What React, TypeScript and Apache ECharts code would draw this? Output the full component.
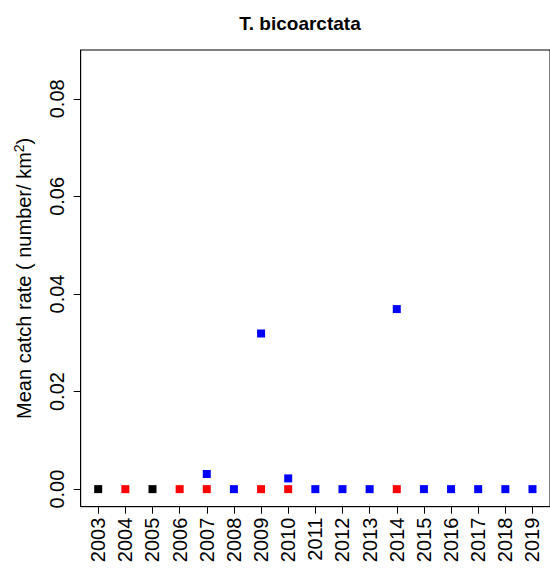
import React, { useEffect, useRef } from "react";
import * as echarts from "echarts";

const titleText = "T. bicoarctata";
const yAxisTicks = [0, 0.02, 0.04, 0.06, 0.08];
const xAxisTicks = [2003, 2004, 2005, 2006, 2007, 2008, 2009, 2010, 2011, 2012, 2013, 2014, 2015, 2016, 2017, 2018, 2019];

const blackYears = [2003, 2005];
const blackValues = [0, 0];
const redYears = [2004, 2006, 2007, 2009, 2010, 2014];
const redValues = [0, 0, 0, 0, 0, 0];
const blueYears = [2007, 2008, 2009, 2010, 2011, 2012, 2013, 2014, 2015, 2016, 2017, 2018, 2019];
const blueValues = [0.0031, 0, 0.0319, 0.0022, 0, 0, 0, 0.0369, 0, 0, 0, 0, 0];

const FONT = "'Liberation Sans', Arial, sans-serif";

function pairs(xs: number[], ys: number[]) {
  return xs.map((x, i) => [x, ys[i]]);
}

export default function App() {
  const ref = useRef<HTMLDivElement>(null);
  useEffect(() => {
    if (!ref.current) return;
    const chart = echarts.init(ref.current, undefined, { renderer: "svg" });
    const mk = (name: string, color: string, data: number[][]) => ({
      name,
      type: "scatter",
      symbol: "rect",
      symbolSize: [8, 8],
      itemStyle: { color, opacity: 1 },
      emphasis: { disabled: true },
      data,
    });
    chart.setOption({
      animation: false,
      backgroundColor: "#ffffff",
      title: {
        text: titleText,
        left: 300,
        top: 14,
        textAlign: "center",
        padding: 0,
        textStyle: { fontFamily: FONT, fontSize: 19, fontWeight: "bold", color: "#000" },
      },
      grid: {
        left: 80.7,
        top: 50,
        width: 471.8,
        height: 456.7,
        show: true,
        borderColor: "#000",
        borderWidth: 1,
        backgroundColor: "transparent",
      },
      xAxis: {
        type: "value",
        min: 2002.355,
        max: 2019.645,
        splitLine: { show: false },
        axisLine: { show: true, onZero: false, lineStyle: { color: "#000", width: 1 } },
        axisTick: { show: true, length: 7, lineStyle: { color: "#000" }, customValues: xAxisTicks },
        axisLabel: {
          show: true,
          rotate: 90,
          margin: 11,
          fontFamily: FONT,
          fontSize: 20,
          color: "#000",
          customValues: xAxisTicks,
          formatter: (v: number) => String(v),
        },
      },
      yAxis: {
        type: "value",
        min: -0.0036,
        max: 0.09,
        splitLine: { show: false },
        axisLine: { show: true, lineStyle: { color: "#000", width: 1 } },
        axisTick: { show: true, length: 7, lineStyle: { color: "#000" }, customValues: yAxisTicks },
        axisLabel: {
          show: true,
          rotate: 90,
          margin: 14,
          fontFamily: FONT,
          fontSize: 20,
          color: "#000",
          customValues: yAxisTicks,
          formatter: (v: number) => v.toFixed(2),
        },
        name: "{a|Mean catch rate ( number/ km}{s|2}{a|)}",
        nameLocation: "middle",
        nameGap: 45,
        nameRotate: 90,
        nameTextStyle: {
          fontFamily: FONT,
          color: "#000",
          rich: {
            a: { fontFamily: FONT, fontSize: 20, color: "#000" },
            s: { fontFamily: FONT, fontSize: 14, color: "#000", verticalAlign: "top", padding: [0, 0, 10, 0] },
          },
        },
      },
      series: [
        mk("black", "#000000", pairs(blackYears, blackValues)),
        mk("red", "#ff0000", pairs(redYears, redValues)),
        mk("blue", "#0000ff", pairs(blueYears, blueValues)),
      ],
    });
    return () => chart.dispose();
  }, []);
  return (
    <div
      ref={ref}
      style={{ position: "absolute", left: 0, top: 0, width: 550, height: 569 }}
    />
  );
}
